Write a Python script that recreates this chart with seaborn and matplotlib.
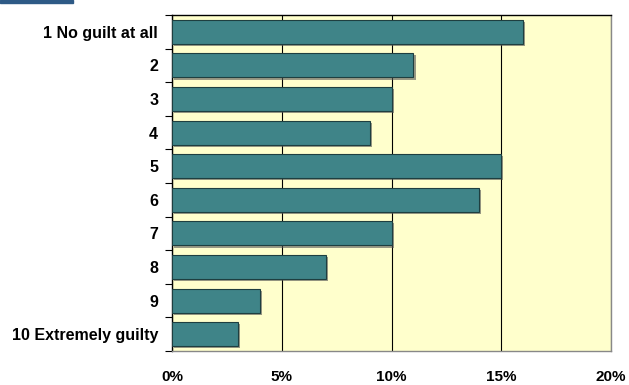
import matplotlib
matplotlib.use("Agg")
import matplotlib.pyplot as plt
import matplotlib.patheffects as pe
from matplotlib.patches import Rectangle
import seaborn as sns
import pandas as pd
import numpy as np

categories = ["1 No guilt at all", "2", "3", "4", "5", "6", "7", "8", "9",
              "10 Extremely guilty"]
shares = [16, 11, 10, 9, 15, 14, 10, 7, 4, 3]
x_ticks = [0, 5, 10, 15, 20]
x_tick_labels = ["0%", "5%", "10%", "15%", "20%"]

df = pd.DataFrame({"category": categories, "share": shares})

sns.set_theme(style="white")
plt.rcParams["font.family"] = ["Liberation Sans", "DejaVu Sans"]

fig = plt.figure(figsize=(6.29, 3.85), dpi=100)
ax = fig.add_axes([172 / 629, 1 - 351 / 385, (611 - 172) / 629, (351 - 15) / 385])
ax.set_facecolor("#FFFFCC")

sns.barplot(data=df, x="share", y="category", orient="h", color="#3F8488",
            saturation=1, width=0.72, edgecolor="#1E3F40", linewidth=0.8,
            ax=ax, zorder=3)
for bar in ax.patches:
    bar.set_path_effects([pe.SimplePatchShadow(offset=(1.5, -1.5),
                                               shadow_rgbFace="#555555", alpha=0.6),
                          pe.Normal()])

ax.set_xlim(0, 20)
ax.set_ylim(len(categories) - 0.5, -0.5)
ax.set_xticks(x_ticks)
ax.set_xticklabels(x_tick_labels, fontsize=11, fontweight="bold")
ax.set_yticks(range(len(categories)))
ax.set_yticklabels(categories, fontsize=11.5, fontweight="bold")
ax.set_xlabel("")
ax.set_ylabel("")

ax.grid(axis="x", color="black", linewidth=0.8, zorder=0)
ax.grid(axis="y", visible=False)
ax.set_axisbelow(True)

# outward ticks on the left spine at the category boundaries
ax.set_yticks(np.arange(-0.5, len(categories), 1), minor=True)
ax.tick_params(axis="y", which="major", length=0, pad=10, colors="black")
ax.tick_params(axis="y", which="minor", left=True, length=5, width=0.8, color="black")
ax.tick_params(axis="x", which="major", length=0, pad=14, colors="black")

ax.spines["left"].set_color("black")
ax.spines["top"].set_color("black")
ax.spines["right"].set_color("#888888")
ax.spines["bottom"].set_color("#888888")
for s in ax.spines.values():
    s.set_linewidth(1.0)
    s.set_visible(True)

# top-left accent band
fig.patches.append(Rectangle((0, 1 - 3 / 385), 73 / 629, 3 / 385,
                             transform=fig.transFigure, color="#2E5A86"))

fig.savefig("out.png", dpi=100)
